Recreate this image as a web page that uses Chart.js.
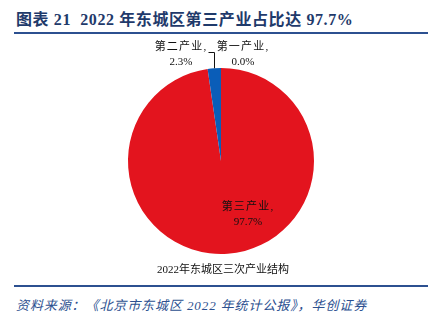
<!DOCTYPE html>
<html>
<head>
<meta charset="utf-8">
<script src="https://cdn.jsdelivr.net/npm/chart.js@4/dist/chart.umd.min.js"></script>
<style>
  html, body { margin: 0; padding: 0; background: #fff; }
  body { width: 431px; height: 325px; position: relative; overflow: hidden;
         font-family: "Liberation Serif", "Noto Sans CJK SC", serif; }
  #title { position: absolute; left: 16px; top: 6px; font-size: 16px; font-weight: bold;
           color: #1f3a6b; letter-spacing: 0.6px; white-space: pre; }
  .rule { position: absolute; left: 14px; width: 414px; height: 2px; background: #2c5090; }
  #chartBox { position: absolute; left: 0; top: 36px; width: 431px; height: 244px; }
  #source { position: absolute; left: 16px; top: 295px; font-size: 13px; font-style: italic;
            color: #2c5090; letter-spacing: 0.9px; white-space: pre; }
</style>
</head>
<body>
<div id="title">图表 21  2022 年东城区第三产业占比达 97.7%</div>
<div class="rule" style="top:32px"></div>
<div id="chartBox"><canvas id="myChart"></canvas></div>
<div class="rule" style="top:285px"></div>
<div id="source">资料来源：《北京市东城区 2022 年统计公报》，华创证券</div>
<script>
const categories = ['第三产业', '第二产业', '第一产业'];
const shares = [97.7, 2.3, 0.0];
const sliceColors = ['#e3141e', '#0a5db8', '#9a9a9a'];
const caption = '2022年东城区三次产业结构';

// where each slice label sits, relative to the pie centre
const labelOffsets = [
  { dx: 27, dy: 46 },
  { dx: -40, dy: -114 },
  { dx: 22, dy: -114 }
];

const sliceLabels = {
  id: 'sliceLabels',
  afterDatasetsDraw(chart) {
    const ctx = chart.ctx;
    const arcs = chart.getDatasetMeta(0).data;
    const cx = arcs[0].x, cy = arcs[0].y;
    ctx.save();
    ctx.fillStyle = '#111';
    ctx.font = '11px "Liberation Serif", "Noto Sans CJK SC", serif';
    ctx.textAlign = 'center';
    ctx.textBaseline = 'middle';
    categories.forEach((name, i) => {
      const x = cx + labelOffsets[i].dx, y = cy + labelOffsets[i].dy;
      ctx.letterSpacing = '1.2px';
      ctx.fillText(name + ',', x, y);
      ctx.letterSpacing = '0px';
      ctx.fillText(shares[i].toFixed(1) + '%', x, y + 15);
    });

    // leader line for the small slice
    const a = arcs[1];
    const mid = (a.startAngle + a.endAngle) / 2;
    const px = Math.round(cx + Math.cos(mid) * a.outerRadius) + 0.5;
    const py = cy + Math.sin(mid) * a.outerRadius;
    const ly = Math.round(cy + labelOffsets[1].dy + 5) + 0.5;
    ctx.strokeStyle = '#111';
    ctx.lineWidth = 1;
    ctx.beginPath();
    ctx.moveTo(px, py);
    ctx.lineTo(px, ly);
    ctx.lineTo(px - 6, ly);
    ctx.stroke();

    // caption under the pie
    ctx.font = '11px "Liberation Serif", "Noto Sans CJK SC", serif';
    ctx.fillText(caption, cx + 2, cy + a.outerRadius + 16);
    ctx.restore();
  }
};

new Chart(document.getElementById('myChart'), {
  type: 'pie',
  data: {
    labels: categories,
    datasets: [{
      data: shares,
      backgroundColor: sliceColors,
      borderWidth: 0
    }]
  },
  options: {
    responsive: true,
    maintainAspectRatio: false,
    animation: false,
    layout: { padding: { left: 128, right: 117, top: 32, bottom: 26 } },
    plugins: {
      legend: { display: false },
      tooltip: { enabled: false }
    }
  },
  plugins: [sliceLabels]
});
</script>
</body>
</html>
